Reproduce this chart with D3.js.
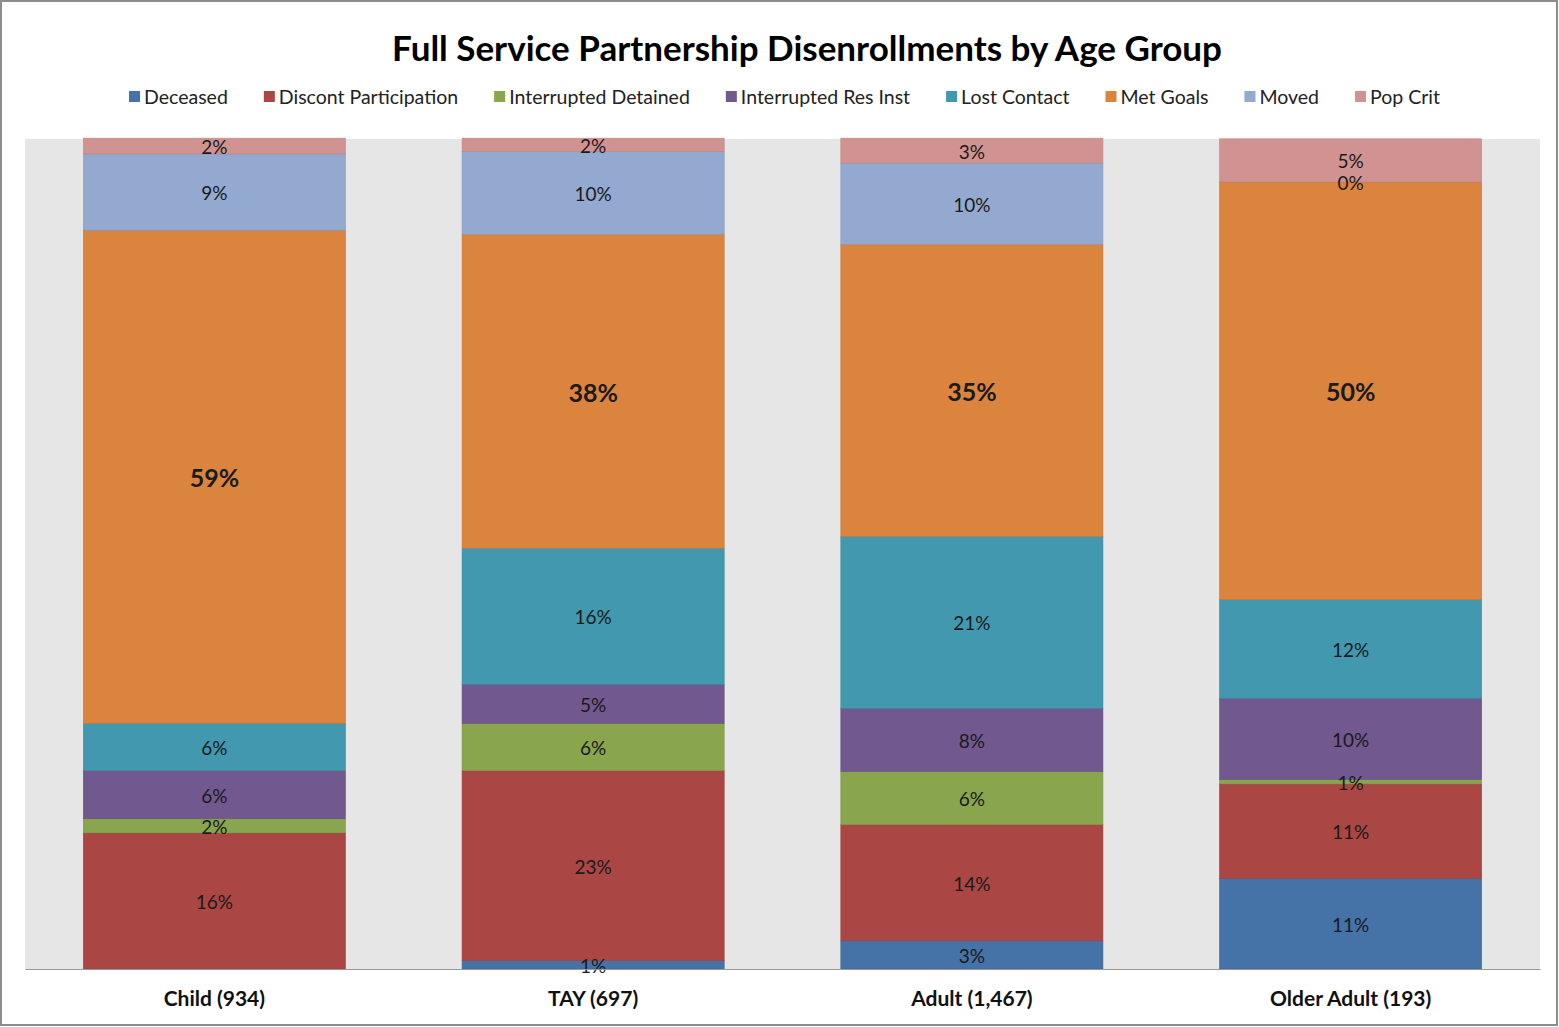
<!DOCTYPE html>
<html><head><meta charset="utf-8">
<script src="https://cdn.jsdelivr.net/npm/d3@7"></script>
<style>body{margin:0;background:#fff;}svg{display:block;font-family:Lato,"Open Sans",sans-serif;}</style>
</head><body>
<script>
const categories = ["Child (934)", "TAY (697)", "Adult (1,467)", "Older Adult (193)"];
const seriesNames = ["Deceased","Discont Participation","Interrupted Detained","Interrupted Res Inst","Lost Contact","Met Goals","Moved","Pop Crit"];
const seriesColors = ["#4572a7","#aa4643","#89a54e","#71588f","#4198af","#db843d","#93a9cf","#d19392"];
// percent values per series, one per category
const deceased   = [null, 1.0, 3.4, 10.9];
const discont    = [16.4, 22.9, 14.0, 11.4];
const intDet     = [1.7, 5.7, 6.4, 0.52];
const intRes     = [5.8, 4.7, 7.6, 9.8];
const lostContact= [5.7, 16.4, 20.7, 11.9];
const metGoals   = [59.4, 37.8, 35.2, 50.3];
const moved      = [9.2, 10.0, 9.8, 0];
const popCrit    = [1.9, 1.6, 3.0, 5.2];
const seriesValues = [deceased, discont, intDet, intRes, lostContact, metGoals, moved, popCrit];
const title = "Full Service Partnership Disenrollments by Age Group";

const W = 1559, H = 1027;
const svg = d3.select("body").append("svg").attr("width", W).attr("height", H);
svg.append("rect").attr("x",1).attr("y",1).attr("width",W-3).attr("height",H-3)
  .attr("fill","#fff").attr("stroke","#8c8c8c").attr("stroke-width",2);

const plot = {x0: 25, x1: 1540, y0: 139, y1: 969};
svg.append("rect").attr("x",plot.x0).attr("y",plot.y0).attr("width",plot.x1-plot.x0).attr("height",plot.y1-plot.y0).attr("fill","#e6e6e6");

const x = d3.scaleBand().domain(categories).range([plot.x0, plot.x1]).paddingInner(0.308).paddingOuter(0.154);
const y = d3.scaleLinear().domain([0, 100]).range([plot.y1, plot.y0]);

const rows = categories.map((c, i) => {
  const r = {cat: c};
  seriesNames.forEach((s, k) => r[s] = seriesValues[k][i] == null ? 0 : seriesValues[k][i]);
  return r;
});
const stack = d3.stack().keys(seriesNames)(rows);

const g = svg.append("g");
stack.forEach((layer, k) => {
  g.selectAll(null).data(layer).enter().append("rect")
    .attr("x", d => x(d.data.cat))
    .attr("width", x.bandwidth())
    .attr("y", d => y(d[1]))
    .attr("height", d => Math.max(0, y(d[0]) - y(d[1])))
    .attr("fill", seriesColors[k])
    .attr("stroke", d3.color(seriesColors[k]).darker(0.3))
    .attr("stroke-width", 0.6);
});
stack.forEach((layer, k) => {
  layer.forEach((d, i) => {
    const v = seriesValues[k][i];
    if (v == null) return;
    const isMet = seriesNames[k] === "Met Goals";
    svg.append("text")
      .attr("x", x(d.data.cat) + x.bandwidth()/2)
      .attr("y", (y(d[0]) + y(d[1]))/2)
      .attr("dy", "0.42em")
      .attr("text-anchor", "middle")
      .attr("font-size", isMet ? 25 : 19)
      .attr("font-weight", isMet ? "bold" : "normal")
      .attr("fill", "#1a1a1a")
      .text(Math.round(v) + "%");
  });
});

const xAxis = d3.axisBottom(x).tickSize(0).tickPadding(22);
const ax = svg.append("g").attr("transform", `translate(0,${plot.y1})`).call(xAxis);
ax.select(".domain").attr("stroke", "#999").attr("stroke-width", 1.2);
ax.selectAll("text").attr("font-size", 21).attr("font-weight", "bold").attr("fill", "#111")
  .attr("font-family", "Lato, sans-serif").attr("dy", "0.71em");

svg.append("text").attr("x", 807).attr("y", 61).attr("text-anchor", "middle")
  .attr("font-size", 35).attr("font-weight", "bold").attr("fill", "#000").text(title);

const leg = svg.append("g");
let cx = 0;
seriesNames.forEach((s, k) => {
  const it = leg.append("g");
  it.append("rect").attr("x", 0).attr("y", -6).attr("width", 11).attr("height", 11).attr("fill", seriesColors[k]);
  const t = it.append("text").attr("x", 15).attr("y", 0).attr("dy", "0.35em").attr("font-size", 19.5).attr("fill", "#222").text(s);
  const w = 15 + t.node().getComputedTextLength();
  it.attr("transform", `translate(${cx},0)`);
  cx += w + 36;
});
const totalW = cx - 36;
leg.attr("transform", `translate(${(133 + 1436)/2 - totalW/2},97)`);
</script>
</body></html>
